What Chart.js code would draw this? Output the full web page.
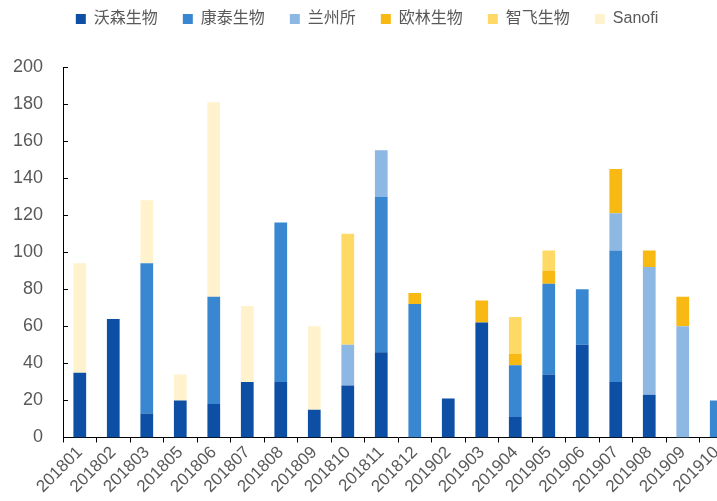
<!DOCTYPE html>
<html>
<head>
<meta charset="utf-8">
<script src="https://cdn.jsdelivr.net/npm/chart.js@4/dist/chart.umd.min.js"></script>
<style>
    html, body { margin: 0; padding: 0; background: #fff; overflow: hidden; }
    .contenedor { width: 733px; height: 501px; }
</style>
</head>
<body>
<div class="contenedor"><canvas id="grafico"></canvas></div>
<script>
// meses
const categorias = ['201801', '201802', '201803', '201805', '201806', '201807', '201808', '201809', '201810', '201811',
    '201812', '201902', '201903', '201904', '201905', '201906', '201907', '201908', '201909', '201910'];

// valores por empresa
const wosen   = [35, 64, 13, 20, 18, 30, 30, 15, 28, 46, 0, 21, 62, 11, 34, 50, 30, 23, 0, 0];
const kangtai = [0, 0, 81, 0, 58, 0, 86, 0, 0, 84, 72, 0, 0, 28, 49, 30, 71, 0, 0, 20];
const lanzhou = [0, 0, 0, 0, 0, 0, 0, 0, 22, 25, 0, 0, 0, 0, 0, 0, 20, 69, 60, 0];
const oulin   = [0, 0, 0, 0, 0, 0, 0, 0, 0, 0, 6, 0, 12, 6, 7, 0, 24, 9, 16, 0];
const zhifei  = [0, 0, 0, 0, 0, 0, 0, 0, 60, 0, 0, 0, 0, 20, 11, 0, 0, 0, 0, 0];
const sanofi  = [59, 0, 34, 14, 105, 41, 0, 45, 0, 0, 0, 0, 0, 0, 0, 0, 0, 0, 0, 0];

const yTicks = [0, 20, 40, 60, 80, 100, 120, 140, 160, 180, 200];

const gris = '#595959';

// marcas del eje Y hacia dentro
const ticksDentro = {
    id: 'ticksDentro',
    afterDraw(chart) {
        const ctx = chart.ctx;
        const y = chart.scales.y;
        ctx.save();
        ctx.strokeStyle = '#000';
        ctx.lineWidth = 1;
        yTicks.forEach(v => {
            let py = Math.round(y.getPixelForValue(v)) + 0.5;
            ctx.beginPath();
            ctx.moveTo(y.right, py);
            ctx.lineTo(y.right + 5, py);
            ctx.stroke();
        });
        ctx.restore();
    }
};

// espacio extra debajo de la leyenda
const margenLeyenda = {
    id: 'margenLeyenda',
    beforeInit(chart) {
        const fitOriginal = chart.legend.fit;
        chart.legend.fit = function() {
            fitOriginal.bind(chart.legend)();
            this.height += 30;
        };
    }
};

function serie(label, data, color) {
    return {
        label: label,
        data: data,
        backgroundColor: color,
        borderWidth: 0,
        barPercentage: 0.38,
        categoryPercentage: 1
    };
}

let ctx = document.getElementById('grafico').getContext('2d');
new Chart(ctx, {
    type: 'bar',
    data: {
        labels: categorias,
        datasets: [
            serie('沃森生物', wosen, '#0C4FA4'),
            serie('康泰生物', kangtai, '#3987D0'),
            serie('兰州所', lanzhou, '#8DB8E3'),
            serie('欧林生物', oulin, '#F8B912'),
            serie('智飞生物', zhifei, '#FFD966'),
            serie('Sanofi', sanofi, '#FFF2CC')
        ]
    },
    options: {
        responsive: true,
        maintainAspectRatio: false,
        animation: false,
        layout: { padding: { top: -14, left: 1, right: 0, bottom: 4 } },
        plugins: {
            legend: {
                position: 'top',
                labels: {
                    boxWidth: 10,
                    boxHeight: 10,
                    padding: 25,
                    color: gris,
                    font: { family: 'Liberation Sans, Noto Sans CJK SC', size: 16 }
                }
            },
            tooltip: { enabled: false }
        },
        scales: {
            x: {
                stacked: true,
                grid: { offset: true, drawOnChartArea: false, tickLength: 5, color: '#000' },
                border: { color: '#000', width: 1 },
                ticks: {
                    color: gris,
                    minRotation: 45,
                    maxRotation: 45,
                    autoSkip: false,
                    padding: 0,
                    font: { family: 'Liberation Sans', size: 17 }
                }
            },
            y: {
                stacked: true,
                min: 0,
                max: 200,
                grid: { display: false },
                border: { color: '#000', width: 1 },
                ticks: {
                    stepSize: 20,
                    color: gris,
                    padding: 12,
                    font: { family: 'Liberation Sans', size: 18 }
                }
            }
        }
    },
    plugins: [ticksDentro, margenLeyenda]
});
</script>
</body>
</html>
